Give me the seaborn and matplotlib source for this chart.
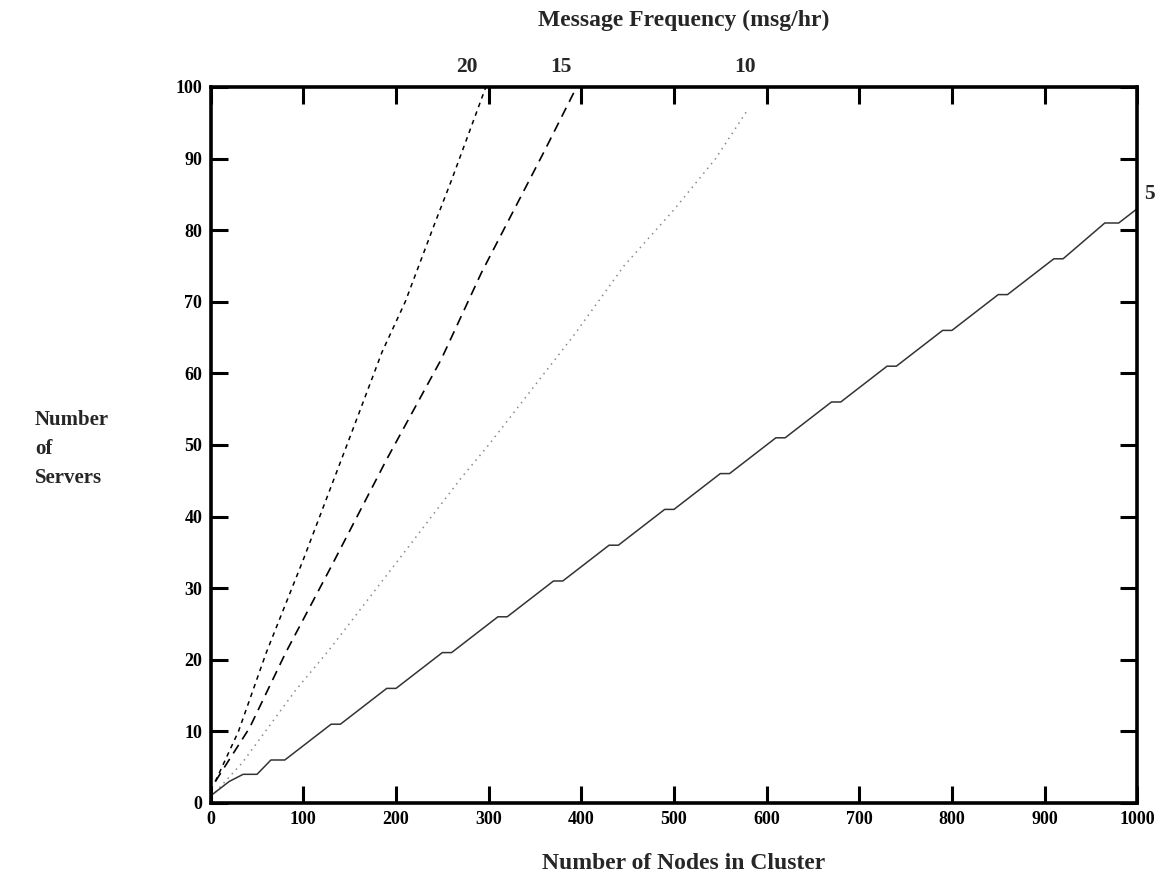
import matplotlib
matplotlib.use("Agg")
import matplotlib.pyplot as plt
import seaborn as sns
import pandas as pd

# ---- data ----
x_f20 = [5, 30, 60, 100, 150, 185, 210, 242, 260, 297]
y_f20 = [3, 10, 21, 34, 51, 63, 70, 81, 87, 100]

x_f15 = [5, 42, 81, 130, 190, 249, 292, 328, 360, 395]
y_f15 = [3, 10.5, 21, 33, 48, 62, 74, 83, 91, 100]

x_f10 = [5, 34, 92, 128, 200, 271, 300, 393, 446, 501, 545, 578]
y_f10 = [1.5, 5.6, 15.8, 21.4, 33.5, 45.5, 50, 65.5, 75, 83, 90, 96.5]

x_f5 = [0, 10, 20, 35, 50, 65, 80, 130, 140, 190, 200, 250, 260, 310, 320,
        370, 380, 430, 440, 490, 500, 550, 560, 610, 620, 670, 680, 730, 740,
        790, 800, 850, 860, 910, 920, 965, 980, 1000]
y_f5 = [1, 2, 3, 4, 4, 6, 6, 11, 11, 16, 16, 21, 21, 26, 26,
        31, 31, 36, 36, 41, 41, 46, 46, 51, 51, 56, 56, 61, 61,
        66, 66, 71, 71, 76, 76, 81, 81, 83]

freq_labels = ["20", "15", "10", "5"]
label_x = [276, 378, 577, 1013]
label_y = [102.8, 102.8, 102.8, 85]

x_ticks = list(range(0, 1001, 100))
y_ticks = list(range(0, 101, 10))

# ---- styling ----
sns.set_style("ticks")
plt.rcParams['font.family'] = ['Liberation Serif', 'DejaVu Serif']
plt.rcParams['font.weight'] = 'bold'

fig = plt.figure(figsize=(11.64, 8.90), dpi=100)
ax = fig.add_axes([0.181, 0.0978, 0.796, 0.8045])

series = [
    (x_f20, y_f20, dict(color='black', lw=1.1, dashes=(3, 3))),
    (x_f15, y_f15, dict(color='black', lw=1.2, dashes=(6, 4))),
    (x_f10, y_f10, dict(color='#8a8a8a', lw=1.1, dashes=(1, 3))),
    (x_f5, y_f5, dict(color='#333333', lw=1.1)),
]
for xs, ys, st in series:
    df = pd.DataFrame({'x': xs, 'y': ys})
    dashes = st.pop('dashes', None)
    sns.lineplot(data=df, x='x', y='y', ax=ax, estimator=None,
                 sort=False, **st)
    if dashes is not None:
        ax.lines[-1].set_dashes(dashes)

ax.set_xlim(0, 1000)
ax.set_ylim(0, 100)
ax.set_xticks(x_ticks)
ax.set_yticks(y_ticks)
ax.set_xlabel('')
ax.set_ylabel('')

for sp in ax.spines.values():
    sp.set_visible(True)
    sp.set_linewidth(2.6)
    sp.set_color('black')

ax.tick_params(direction='in', length=12, width=2.2, top=True, right=True,
               labeltop=False, labelright=False, labelsize=13, pad=6,
               colors='black')
for lbl in ax.get_xticklabels() + ax.get_yticklabels():
    lbl.set_fontweight('bold')

for t, xv, yv in zip(freq_labels, label_x, label_y):
    ax.text(xv, yv, t, ha='center', va='center', fontsize=15.5,
            fontweight='bold', clip_on=False)

fig.text(0.587, 0.977, "Message Frequency (msg/hr)", ha='center',
         va='center', fontsize=17, fontweight='bold')
fig.text(0.587, 0.030, "Number of Nodes in Cluster", ha='center',
         va='center', fontsize=17, fontweight='bold')
fig.text(0.030, 0.495, "Number\nof\nServers", ha='left', va='center',
         fontsize=15, fontweight='bold', linespacing=1.6)

fig.savefig("out.png", dpi=100, facecolor='white')
